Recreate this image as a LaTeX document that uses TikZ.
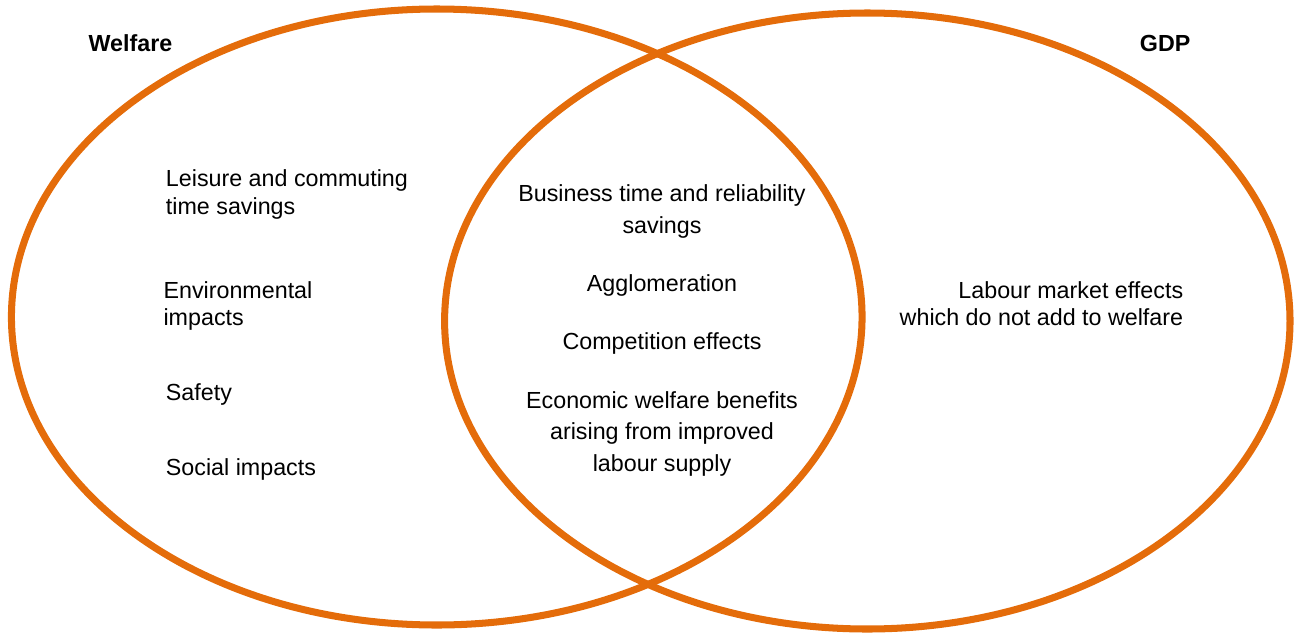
\documentclass[tikz,border=0pt]{standalone}
\usepackage{fontspec}
\setmainfont{Liberation Sans}
\usepackage{xcolor}
\usepackage{tikz}
\usetikzlibrary{positioning}
\definecolor{vennorange}{RGB}{228,108,10}

\begin{document}
\begin{tikzpicture}[
      x=0.02cm, y=-0.02cm,
      ring/.style={draw=vennorange, line width=4pt},
      setname/.style={font=\fontsize{13.25}{15.6}\selectfont\bfseries, inner sep=0pt},
      item/.style={font=\fontsize{13.25}{15.6}\selectfont, inner sep=0pt, align=left},
      rightitem/.style={font=\fontsize{13.25}{15.6}\selectfont, inner sep=0pt, align=right},
      miditem/.style={font=\fontsize{13.25}{18.1}\selectfont, inner sep=0pt, align=center}
    ]
      \useasboundingbox (0,0) rectangle (1294,632);
      % the two sets
      \draw[ring] (436.75,317) ellipse [x radius=425.3, y radius=308];
      \draw[ring] (867.3,321) ellipse [x radius=422.7, y radius=308];

      \node[setname, anchor=base west] (welfare) at (88.3,51.7) {Welfare};
      \node[setname, anchor=base east] (gdp) at (1190.7,51.7) {GDP};

      % welfare only (base = last line)
      \node[item, anchor=base west] (leisure) at (165.6,214.3) {Leisure and commuting\\time savings};
      \node[item, anchor=base west] (environ) at (163.2,325.8) {Environmental\\impacts};
      \node[item, anchor=base west] (safety) at (165.6,400) {Safety};
      \node[item, anchor=base west] (social) at (165.6,475) {Social impacts};

      % both
      \node[miditem, anchor=base] (business) at (662,233.3) {Business time and reliability\\savings};
      \node[miditem, anchor=base] (agglo) at (662,291) {Agglomeration};
      \node[miditem, anchor=base] (compet) at (662,349.3) {Competition effects};
      \node[miditem, anchor=base] (labsupply) at (662,471.7) {Economic welfare benefits\\arising from improved\\labour supply};

      % gdp only
      \node[rightitem, anchor=base east] (labmarket) at (1183.5,325.8) {Labour market effects\\which do not add to welfare};
    \end{tikzpicture}
\end{document}
